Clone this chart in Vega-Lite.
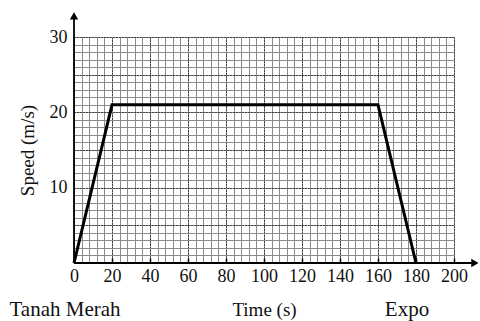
{
  "$schema": "https://vega.github.io/schema/vega-lite/v6.json",
  "width": 380,
  "height": 226,
  "autosize": "none",
  "padding": {"left": 74, "top": 37, "right": 26, "bottom": 58},
  "background": "white",
  "config": {
    "view": {"stroke": null},
    "font": "Liberation Serif",
    "axis": {"labelFont": "Liberation Serif", "titleFont": "Liberation Serif", "labelColor": "#111", "titleColor": "#111"}
  },
  "datasets": {
    "journey": [
      {"t": 0, "v": 0},
      {"t": 20, "v": 21},
      {"t": 160, "v": 21},
      {"t": 180, "v": 0}
    ],
    "axes": [
      {"dir": "time", "x": 0, "x2": 211, "y": 0, "y2": 0},
      {"dir": "speed", "x": 0, "x2": 0, "y": 0, "y2": 32.8}
    ],
    "heads": [
      {"dir": "time", "x": 211, "y": 0, "shape": "triangle-right"},
      {"dir": "speed", "x": 0, "y": 32.8, "shape": "triangle-up"}
    ],
    "stations": [
      {"name": "Tanah Merah", "t": 0, "v": 0},
      {"name": "Expo", "t": 180, "v": 0}
    ]
  },
  "resolve": {"axis": {"x": "independent", "y": "independent"}},
  "layer": [
    {
      "data": {"name": "journey"},
      "mark": {"type": "line", "opacity": 0},
      "encoding": {
        "x": {"field": "t", "type": "quantitative", "scale": {"domain": [0, 200], "nice": false},
          "axis": {"orient": "top", "values": [0,4,8,12,16,20,24,28,32,36,40,44,48,52,56,60,64,68,72,76,80,84,88,92,96,100,104,108,112,116,120,124,128,132,136,140,144,148,152,156,160,164,168,172,176,180,184,188,192,196,200],
            "labels": false, "ticks": false, "domain": false, "title": null, "grid": true, "gridColor": "#8a8a8a", "gridWidth": 1, "gridOpacity": 1, "zindex": 0}},
        "y": {"field": "v", "type": "quantitative", "scale": {"domain": [0, 30], "nice": false},
          "axis": {"orient": "right", "values": [0,1,2,3,4,5,6,7,8,9,10,11,12,13,14,15,16,17,18,19,20,21,22,23,24,25,26,27,28,29,30],
            "labels": false, "ticks": false, "domain": false, "title": null, "grid": true, "gridColor": "#8a8a8a", "gridWidth": 1, "gridOpacity": 1, "zindex": 0}}
      }
    },
    {
      "data": {"name": "journey"},
      "mark": {"type": "line", "color": "#000", "strokeWidth": 3, "strokeJoin": "miter"},
      "encoding": {
        "x": {"field": "t", "type": "quantitative", "scale": {"domain": [0, 200], "nice": false},
          "axis": {"orient": "bottom", "values": [0,20,40,60,80,100,120,140,160,180,200], "title": "Time (s)",
            "labelFont": "Liberation Serif", "titleFont": "Liberation Serif", "labelOverlap": false, "labelFlush": false,
            "labelFontSize": 18, "titleFontSize": 19, "titleFontWeight": "normal", "titlePadding": 15,
            "domain": false, "ticks": true, "tickSize": -5, "tickColor": "#000", "tickWidth": 1.5, "labelPadding": 9,
            "grid": true, "gridColor": "#000", "gridDash": [1, 2], "gridWidth": 1, "gridOpacity": 1, "zindex": 0}},
        "y": {"field": "v", "type": "quantitative", "scale": {"domain": [0, 30], "nice": false},
          "axis": {"orient": "left", "values": [0,5,10,15,20,25,30], "title": "Speed (m/s)",
            "labelExpr": "datum.value % 10 === 0 && datum.value > 0 ? datum.label : ''",
            "labelFont": "Liberation Serif", "titleFont": "Liberation Serif", "labelOverlap": false, "labelFlush": false,
            "labelFontSize": 18, "titleFontSize": 19, "titleFontWeight": "normal", "titlePadding": 12,
            "domain": false, "ticks": false, "labelPadding": 7,
            "grid": true, "gridColor": "#000", "gridDash": [1, 2], "gridWidth": 1, "gridOpacity": 1, "zindex": 0}}
      }
    },
    {
      "data": {"name": "axes"},
      "mark": {"type": "rule", "color": "#000", "strokeWidth": 1.8},
      "encoding": {
        "x": {"field": "x", "type": "quantitative", "axis": null},
        "x2": {"field": "x2"},
        "y": {"field": "y", "type": "quantitative", "axis": null},
        "y2": {"field": "y2"}
      }
    },
    {
      "data": {"name": "heads"},
      "mark": {"type": "point", "filled": true, "color": "#000", "size": 70, "opacity": 1},
      "encoding": {
        "x": {"field": "x", "type": "quantitative", "axis": null},
        "y": {"field": "y", "type": "quantitative", "axis": null},
        "shape": {"field": "shape", "type": "nominal", "scale": null, "legend": null}
      }
    },
    {
      "data": {"name": "stations"},
      "mark": {"type": "text", "font": "Liberation Serif", "fontSize": 21, "color": "#111", "dy": 47, "dx": -9, "align": "center", "baseline": "middle"},
      "encoding": {
        "x": {"field": "t", "type": "quantitative", "axis": null},
        "y": {"field": "v", "type": "quantitative", "axis": null},
        "text": {"field": "name"}
      }
    }
  ]
}
